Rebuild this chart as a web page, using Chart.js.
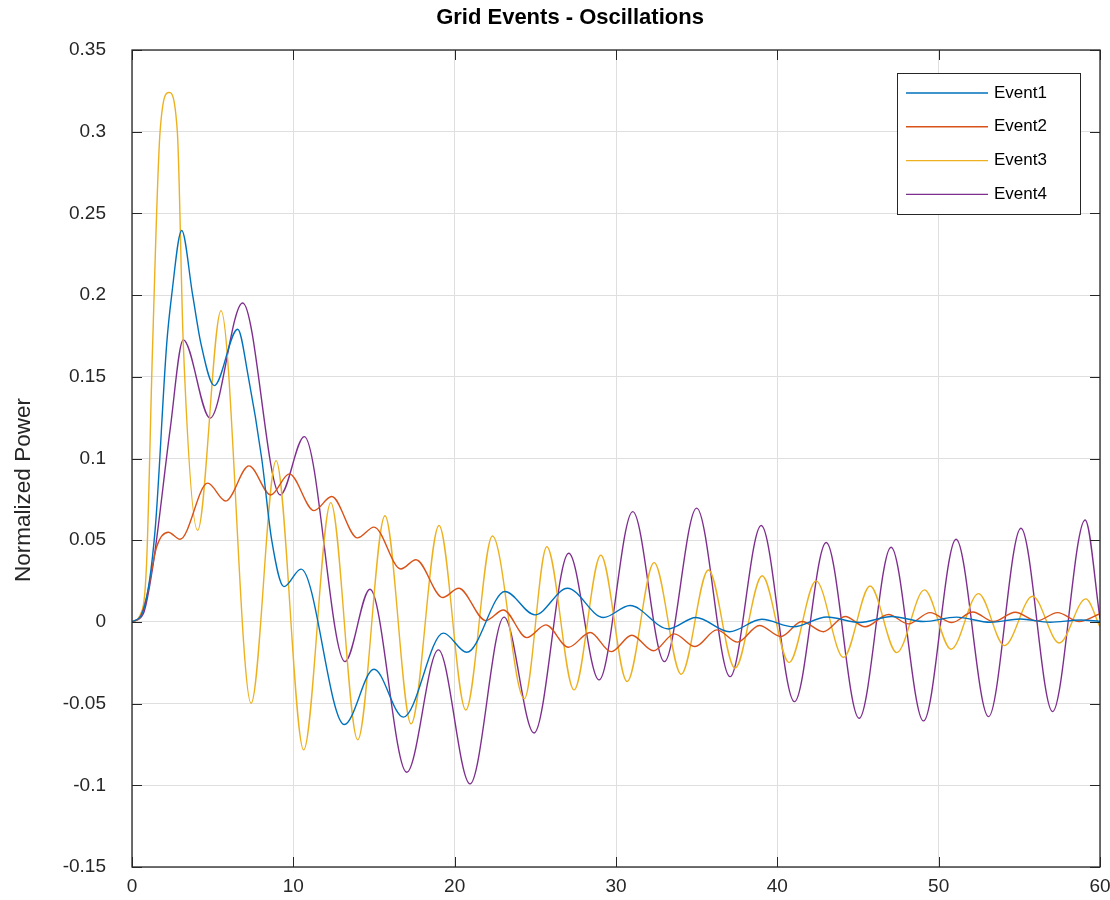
<!DOCTYPE html>
<html>
<head>
<meta charset="utf-8">
<title>Grid Events - Oscillations</title>
<script src="https://cdn.jsdelivr.net/npm/chart.js"></script>
<style>
    html, body { margin: 0; padding: 0; background: #fff; }
    #wrap { width: 1110px; height: 900px; position: relative; }
</style>
</head>
<body>
<div id="wrap"><canvas id="chart"></canvas></div>
<script>
// axis ticks
const xTicks = [0, 10, 20, 30, 40, 50, 60];
const xTickLabels = ['0', '10', '20', '30', '40', '50', '60'];
const yTicks = [-0.15, -0.1, -0.05, 0, 0.05, 0.1, 0.15, 0.2, 0.25, 0.3, 0.35];
const yTickLabels = ['-0.15', '-0.1', '-0.05', '0', '0.05', '0.1', '0.15', '0.2', '0.25', '0.3', '0.35'];

const seriesNames = ['Event1', 'Event2', 'Event3', 'Event4'];

// Event1 (peaks / troughs and a few shoulder points)
const event1X = [0, 0.7, 1.43, 2.15, 2.46, 3.08, 3.76, 4.28, 5.1, 6.55, 7.21, 8.04, 8.66, 9.42, 10.48, 13.16, 15.0, 16.82, 19.3, 20.75,
    23.12, 24.98, 26.99, 29.22, 30.87, 33.25, 34.95, 37.03, 39.04, 41.0, 43.07, 45.1, 47.1, 49.06, 51.1, 53.2, 55.05, 56.9, 58.8, 60];
const event1Y = [0, 0.007, 0.056, 0.17, 0.2, 0.2395, 0.2, 0.17, 0.1446, 0.1791, 0.15, 0.1, 0.05, 0.0216, 0.0323, -0.0628, -0.029, -0.0583, -0.0069, -0.0186,
    0.0186, 0.0043, 0.0206, 0.0027, 0.01, -0.0043, 0.0027, -0.006, 0.0016, -0.003, 0.003, -0.0004, 0.0033, 0.0002, 0.0029, -0.0002, 0.0018, -0.0002, 0.0012, 0.0003];

// Event2
const event2X = [0, 0.5, 0.91, 1.53, 2.25, 2.98, 4.69, 5.81, 7.25, 8.6, 9.75, 11.28, 12.38, 13.97, 15.0, 16.66, 17.6, 19.26, 20.25, 21.93,
    23.02, 24.47, 25.65, 27.05, 28.4, 29.7, 30.98, 32.32, 33.62, 34.9, 36.25, 37.53, 38.89, 40.22, 41.52, 42.86, 44.2, 45.44, 46.89, 48.13,
    49.47, 50.82, 52.12, 53.4, 54.74, 56.09, 57.37, 58.71, 60];
const event2Y = [0, 0.003, 0.0155, 0.046, 0.0549, 0.0506, 0.0849, 0.074, 0.0955, 0.0777, 0.0906, 0.0681, 0.0767, 0.0514, 0.058, 0.0324, 0.038, 0.0149, 0.0206, 0.0008,
    0.0073, -0.0096, -0.0018, -0.0155, -0.0065, -0.0182, -0.0082, -0.0177, -0.0073, -0.0151, -0.0049, -0.0124, -0.0022, -0.009, 0.0002, -0.006, 0.0033, -0.003, 0.0045, -0.0012,
    0.0057, -0.0004, 0.0061, 0.0002, 0.0059, 0.0006, 0.0057, 0.0002, 0.005];

// Event3
const event3X = [0, 0.5, 0.9, 1.28, 1.74, 2.29, 2.81, 3.18, 4.07, 5.52, 7.38, 8.93, 10.64, 12.32, 13.99, 15.68, 17.3, 19.03, 20.69, 22.34,
    24.32, 25.71, 27.4, 29.06, 30.69, 32.36, 34.04, 35.73, 37.38, 39.06, 40.73, 42.4, 44.1, 45.75, 47.4, 49.12, 50.77, 52.47, 54.08, 55.82,
    57.47, 59.12, 60];
const event3Y = [0, 0.004, 0.035, 0.17, 0.3, 0.324, 0.3, 0.17, 0.056, 0.1905, -0.0498, 0.0987, -0.0783, 0.073, -0.0722, 0.065, -0.0624, 0.059, -0.0539, 0.0526,
    -0.047, 0.046, -0.0416, 0.0408, -0.0365, 0.0363, -0.032, 0.0318, -0.0283, 0.0282, -0.0249, 0.0251, -0.0218, 0.022, -0.0188, 0.0196, -0.0167, 0.0173, -0.0145, 0.0157,
    -0.0129, 0.0141, -0.003];

// Event4
const event4X = [0, 0.7, 1.32, 2.36, 3.18, 4.84, 6.86, 9.19, 10.68, 13.2, 14.75, 17.03, 18.99, 20.95, 23.06, 24.92, 27.07, 28.95, 31.04, 33.0,
    35.0, 37.07, 39.0, 41.06, 43.03, 45.07, 47.05, 49.06, 51.08, 53.09, 55.1, 57.06, 59.08, 60];
const event4Y = [0, 0.005, 0.036, 0.1175, 0.1726, 0.1247, 0.1952, 0.0777, 0.1134, -0.0243, 0.02, -0.092, -0.0171, -0.0991, 0.0029, -0.068, 0.042, -0.0355, 0.0675, -0.0243,
    0.0696, -0.0335, 0.059, -0.0488, 0.0486, -0.059, 0.0457, -0.0606, 0.0506, -0.058, 0.0573, -0.0549, 0.0624, 0.002];

const colors = ['#0072BD', '#D95319', '#EDB120', '#7E2F8E'];

function toPoints(xs, ys) {
    return xs.map((x, i) => ({ x: x, y: ys[i] }));
}

const seriesX = [event1X, event2X, event3X, event4X];
const seriesY = [event1Y, event2Y, event3Y, event4Y];

const datasets = seriesNames.map((name, i) => ({
    label: name,
    data: toPoints(seriesX[i], seriesY[i]),
    borderColor: colors[i],
    backgroundColor: colors[i],
    borderWidth: 1.4,
    pointRadius: 0,
    fill: false,
    cubicInterpolationMode: 'monotone',
}));

const FONT = "'Liberation Sans', Arial, Helvetica, sans-serif";
const AXIS_COLOR = '#262626';

// MATLAB style box, inward ticks, legend, title and y label
const matlabAxes = {
    id: 'matlabAxes',
    afterDatasetsDraw(chart) {
        const { ctx, chartArea: a, scales } = chart;
        const x = scales.x, y = scales.y;
        ctx.save();

        // box + ticks
        ctx.strokeStyle = AXIS_COLOR;
        ctx.lineWidth = 1.3;
        ctx.strokeRect(a.left, a.top, a.right - a.left, a.bottom - a.top);
        ctx.lineWidth = 1;
        ctx.beginPath();
        xTicks.forEach(v => {
            const px = Math.round(x.getPixelForValue(v)) + 0.5;
            ctx.moveTo(px, a.bottom); ctx.lineTo(px, a.bottom - 10);
            ctx.moveTo(px, a.top); ctx.lineTo(px, a.top + 10);
        });
        yTicks.forEach(v => {
            const py = Math.round(y.getPixelForValue(v)) + 0.5;
            ctx.moveTo(a.left, py); ctx.lineTo(a.left + 10, py);
            ctx.moveTo(a.right, py); ctx.lineTo(a.right - 10, py);
        });
        ctx.stroke();

        // legend
        const bx = a.right - 203, by = a.top + 23, bw = 183, bh = 141;
        ctx.fillStyle = '#fff';
        ctx.fillRect(bx, by, bw, bh);
        ctx.strokeStyle = AXIS_COLOR;
        ctx.lineWidth = 1;
        ctx.strokeRect(bx + 0.5, by + 0.5, bw, bh);
        ctx.font = '17px ' + FONT;
        ctx.textBaseline = 'middle';
        ctx.textAlign = 'left';
        chart.data.datasets.forEach((ds, i) => {
            const ry = by + 20 + i * 33.8;
            ctx.strokeStyle = ds.borderColor;
            ctx.lineWidth = 1.4;
            ctx.beginPath();
            ctx.moveTo(bx + 9, ry);
            ctx.lineTo(bx + 91, ry);
            ctx.stroke();
            ctx.fillStyle = '#000';
            ctx.fillText(ds.label, bx + 97, ry);
        });

        // title
        ctx.font = 'bold 22px ' + FONT;
        ctx.fillStyle = '#000';
        ctx.textAlign = 'center';
        ctx.textBaseline = 'middle';
        ctx.fillText('Grid Events - Oscillations', 570, 18);

        // y axis label
        ctx.save();
        ctx.translate(24, 490);
        ctx.rotate(-Math.PI / 2);
        ctx.font = '22.5px ' + FONT;
        ctx.fillStyle = AXIS_COLOR;
        ctx.textAlign = 'center';
        ctx.textBaseline = 'middle';
        ctx.fillText('Normalized Power', 0, 0);
        ctx.restore();

        ctx.restore();
    }
};

new Chart(document.getElementById('chart'), {
    type: 'line',
    data: { datasets: datasets },
    options: {
        responsive: true,
        maintainAspectRatio: false,
        animation: false,
        layout: { padding: { left: 0, right: 10, top: 50, bottom: 0 } },
        scales: {
            x: {
                type: 'linear',
                min: 0,
                max: 60,
                afterBuildTicks: (scale) => { scale.ticks = xTicks.map(v => ({ value: v })); },
                afterFit: (scale) => {
                    scale.height = 33;
                    scale.paddingLeft = 0;
                    scale.paddingRight = 0;
                },
                ticks: {
                    callback: (value, index) => xTickLabels[index],
                    color: AXIS_COLOR,
                    font: { family: FONT, size: 19 },
                    padding: 8,
                    maxRotation: 0,
                    autoSkip: false,
                },
                grid: { color: '#dfdfdf', lineWidth: 1, drawTicks: false },
                border: { display: false },
            },
            y: {
                type: 'linear',
                min: -0.15,
                max: 0.35,
                afterBuildTicks: (scale) => { scale.ticks = yTicks.map(v => ({ value: v })); },
                afterFit: (scale) => {
                    scale.width = 132;
                    scale.paddingTop = 0;
                    scale.paddingBottom = 0;
                },
                ticks: {
                    callback: (value, index) => yTickLabels[index],
                    color: AXIS_COLOR,
                    font: { family: FONT, size: 19 },
                    padding: 26,
                    autoSkip: false,
                },
                grid: { color: '#dfdfdf', lineWidth: 1, drawTicks: false },
                border: { display: false },
            },
        },
        plugins: {
            legend: { display: false },
            tooltip: { enabled: false },
            title: { display: false },
        },
    },
    plugins: [matlabAxes],
});
</script>
</body>
</html>
